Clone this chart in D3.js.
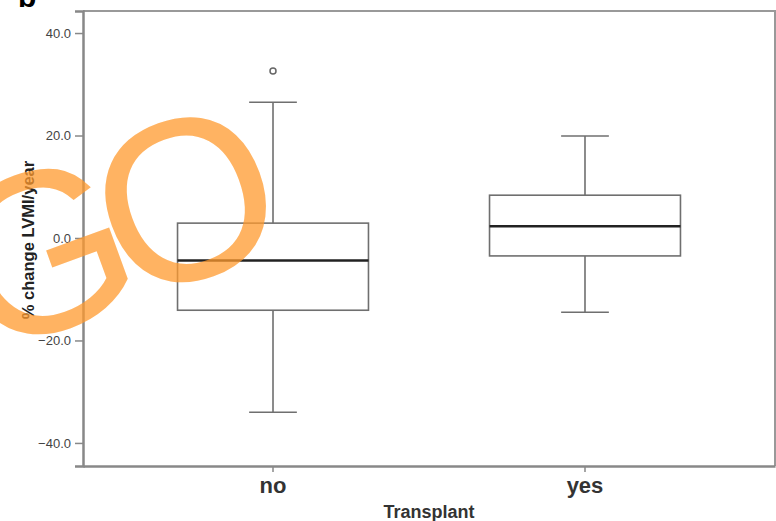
<!DOCTYPE html>
<html>
  <head>
    <meta charset="UTF-8" />
    <title>LVMI box plot</title>
    <script src="https://d3js.org/d3.v7.min.js"></script>
    <style>
      body { margin: 0; background: #fff; }
      text { font-family: 'Liberation Sans', Arial, sans-serif; }
    </style>
  </head>
  <body>
    <div id="main"></div>
    <script type="text/javascript">
      // box statistics (% change LVMI / year)
      const categories = ['no', 'yes'];
      const whiskerHigh = [26.5, 19.9];
      const q3 = [2.9, 8.35];
      const median = [-4.4, 2.3];
      const q1 = [-14.1, -3.5];
      const whiskerLow = [-34.0, -14.5];
      const outliers = [[32.6], []];
      const yTicks = [-40, -20, 0, 20, 40];

      const width = 776;
      const height = 521;
      const margin = { top: 11, right: 1, bottom: 55, left: 83 };

      const svg = d3
        .select('div#main')
        .append('svg')
        .attr('width', width)
        .attr('height', height);

      const x = d3
        .scaleBand()
        .domain(categories)
        .range([margin.left, width - margin.right])
        .paddingInner(0.388)
        .paddingOuter(0.303);

      const y = d3
        .scaleLinear()
        .domain([-44.5, 44.3])
        .range([height - margin.bottom, margin.top]);

      const axisColor = '#888';
      const lineColor = '#6f6f6f';

      // frame (top + right)
      svg
        .append('path')
        .attr('d', `M${margin.left},${margin.top}H${width - margin.right}V${height - margin.bottom}`)
        .attr('fill', 'none')
        .attr('stroke', '#999')
        .attr('stroke-width', 2);

      // y axis
      const yAxis = svg
        .append('g')
        .attr('transform', `translate(${margin.left},0)`)
        .call(d3.axisLeft(y).tickValues(yTicks).tickFormat(d3.format('.1f')).tickSize(8).tickPadding(4));
      yAxis.select('.domain').attr('stroke', axisColor).attr('stroke-width', 2.5);
      yAxis.selectAll('.tick line').attr('stroke', axisColor).attr('stroke-width', 1.5);
      yAxis.selectAll('.tick text').attr('fill', '#444').attr('font-size', 13);

      // x axis
      const xAxis = svg
        .append('g')
        .attr('transform', `translate(0,${height - margin.bottom})`)
        .call(d3.axisBottom(x).tickSize(6).tickPadding(5).tickSizeOuter(0));
      xAxis.select('.domain').attr('stroke', axisColor).attr('stroke-width', 2.5);
      xAxis.selectAll('.tick line').attr('stroke', axisColor).attr('stroke-width', 1.5);
      xAxis
        .selectAll('.tick text')
        .attr('fill', '#333')
        .attr('font-size', 22)
        .attr('font-weight', 'bold');

      // boxes
      const boxes = svg
        .selectAll('g.box')
        .data(categories)
        .join('g')
        .attr('class', 'box');

      const cx = (d) => x(d) + x.bandwidth() / 2;
      const capHalf = x.bandwidth() * 0.125;

      boxes
        .append('line')
        .attr('x1', cx)
        .attr('x2', cx)
        .attr('y1', (d, i) => y(whiskerHigh[i]))
        .attr('y2', (d, i) => y(q3[i]));
      boxes
        .append('line')
        .attr('x1', cx)
        .attr('x2', cx)
        .attr('y1', (d, i) => y(q1[i]))
        .attr('y2', (d, i) => y(whiskerLow[i]));
      boxes
        .append('line')
        .attr('x1', (d) => cx(d) - capHalf)
        .attr('x2', (d) => cx(d) + capHalf)
        .attr('y1', (d, i) => y(whiskerHigh[i]))
        .attr('y2', (d, i) => y(whiskerHigh[i]));
      boxes
        .append('line')
        .attr('x1', (d) => cx(d) - capHalf)
        .attr('x2', (d) => cx(d) + capHalf)
        .attr('y1', (d, i) => y(whiskerLow[i]))
        .attr('y2', (d, i) => y(whiskerLow[i]));
      boxes
        .append('rect')
        .attr('x', (d) => x(d))
        .attr('width', x.bandwidth())
        .attr('y', (d, i) => y(q3[i]))
        .attr('height', (d, i) => y(q1[i]) - y(q3[i]))
        .attr('fill', 'none');
      boxes.selectAll('line, rect').attr('stroke', lineColor).attr('stroke-width', 1.6);
      boxes
        .append('line')
        .attr('x1', (d) => x(d))
        .attr('x2', (d) => x(d) + x.bandwidth())
        .attr('y1', (d, i) => y(median[i]))
        .attr('y2', (d, i) => y(median[i]))
        .attr('stroke', '#222')
        .attr('stroke-width', 2.6);
      boxes
        .selectAll('circle')
        .data((d, i) => outliers[i].map((v) => ({ c: d, v })))
        .join('circle')
        .attr('cx', (o) => cx(o.c))
        .attr('cy', (o) => y(o.v))
        .attr('r', 3)
        .attr('fill', 'none')
        .attr('stroke', '#666')
        .attr('stroke-width', 1.5);

      // axis titles
      svg
        .append('text')
        .attr('x', (margin.left + width - margin.right) / 2)
        .attr('y', 518)
        .attr('text-anchor', 'middle')
        .attr('font-size', 18)
        .attr('font-weight', 'bold')
        .attr('fill', '#333')
        .text('Transplant');
      svg
        .append('text')
        .attr('transform', 'translate(34,240) rotate(-90)')
        .attr('text-anchor', 'middle')
        .attr('font-size', 16.5)
        .attr('font-weight', 'bold')
        .attr('fill', '#222')
        .text('% change LVMI/year');

      // panel letter, cut off at the top of the figure
      svg
        .append('text')
        .attr('x', 18)
        .attr('y', 7)
        .attr('font-size', 30)
        .attr('font-weight', 'bold')
        .attr('fill', '#000')
        .text('b');

      // watermark
      const wm = svg
        .append('g')
        .attr('transform', 'translate(185,197) rotate(-20)')
        .attr('fill', '#ff9a2e')
        .attr('fill-opacity', 0.75)
        .attr('font-size', 230);
      wm.append('text').attr('x', -154).attr('y', 82).attr('text-anchor', 'middle').text('G');
      wm.append('text').attr('x', 0).attr('y', 82).attr('text-anchor', 'middle').text('O');
    </script>
  </body>
</html>
